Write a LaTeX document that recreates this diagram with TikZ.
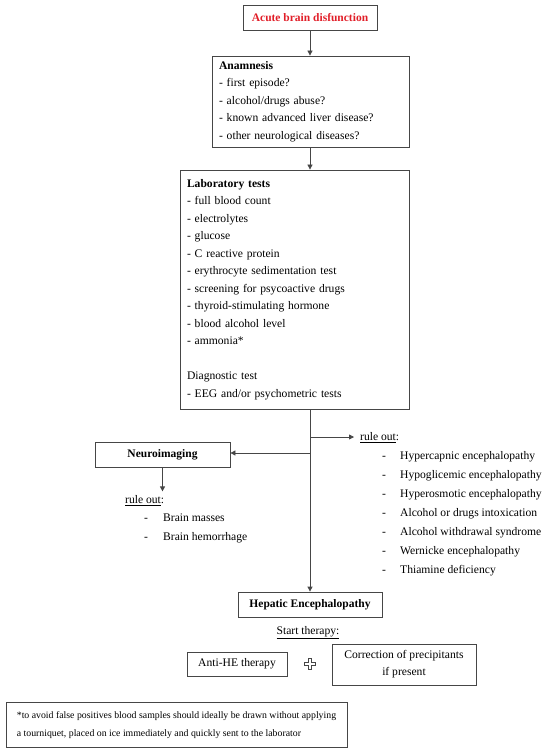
\documentclass[tikz,border=0pt]{standalone}
\usepackage{fontspec}
\setmainfont{Liberation Serif}
\usetikzlibrary{arrows.meta}
\definecolor{redtxt}{RGB}{225,30,40}
\definecolor{edge}{RGB}{70,70,70}
\begin{document}
\begin{tikzpicture}[x=1pt,y=-1pt,
  box/.style={draw=edge, line width=0.8pt, inner sep=0pt},
  txt/.style={font=\fontsize{11.6}{17.5}\selectfont},
  bold/.style={font=\fontsize{11.5}{13}\selectfont\bfseries},
  arr/.style={draw=edge, line width=0.8pt, -{Triangle[length=5pt,width=5pt]}},
  conn/.style={draw=edge, line width=0.8pt}]
\useasboundingbox (0,0) rectangle (550,754);
% top
\node[box, bold, minimum width=134pt, minimum height=25pt, text=redtxt] (acute) at (310,17.5) {Acute brain disfunction};
\node[box, txt, minimum width=197pt, minimum height=91pt, text width=183pt, align=left] (anam) at (310.5,101.5)
 {\textbf{Anamnesis}\\- first episode?\\- alcohol/drugs abuse?\\- known advanced liver disease?\\- other neurological diseases?};
\node[box, txt, minimum width=229pt, minimum height=239pt, text width=215pt, align=left] (lab) at (294.5,289.5)
 {\textbf{Laboratory tests}\\- full blood count\\- electrolytes\\- glucose\\- C reactive protein\\- erythrocyte sedimentation test\\- screening for psycoactive drugs\\- thyroid-stimulating hormone\\- blood alcohol level\\- ammonia*\\[17.5pt]Diagnostic test\\- EEG and/or psychometric tests};
\draw[arr] (acute.south) -- (anam.north -| acute.south);
\draw[arr] (anam.south -| acute.south) -- (lab.north -| acute.south);
% neuroimaging
\node[box, bold, minimum width=135pt, minimum height=25pt] (neuro) at (162.5,454.5) {Neuroimaging};
\node[txt, anchor=west, inner sep=0pt] (ro1) at (125,501) {\underline{rule out}:};
\node[txt, anchor=north west, inner sep=0pt, align=left, font=\fontsize{11.6}{19}\selectfont] (list1) at (144,514)
 {\makebox[19pt][l]{-}Brain masses\\\makebox[19pt][l]{-}Brain hemorrhage};
% right rule out
\node[txt, anchor=west, inner sep=0pt] (ro2) at (360,438) {\underline{rule out}:};
\node[txt, anchor=north west, inner sep=0pt, align=left, font=\fontsize{11.6}{19}\selectfont] (list2) at (382,451.5)
 {\makebox[18pt][l]{-}Hypercapnic encephalopathy\\\makebox[18pt][l]{-}Hypoglicemic encephalopathy\\\makebox[18pt][l]{-}Hyperosmotic encephalopathy\\\makebox[18pt][l]{-}Alcohol or drugs intoxication\\\makebox[18pt][l]{-}Alcohol withdrawal syndrome\\\makebox[18pt][l]{-}Wernicke encephalopathy\\\makebox[18pt][l]{-}Thiamine deficiency};
% HE
\node[box, bold, minimum width=144pt, minimum height=25pt] (he) at (310,604.5) {Hepatic Encephalopathy};
\coordinate (b1) at (310,437);
\coordinate (b2) at (310,453);
\draw[arr] (lab.south -| acute.south) -- (he.north);
\draw[arr] (b1) -- ([xshift=-6pt]ro2.west |- b1);
\draw[arr] (b2) -- (neuro.east |- b2);
\draw[arr] (neuro.south) -- ++(0,24);
% therapy
\node[txt, inner sep=0pt] (start) at (308,633) {\underline{Start therapy:}};
\node[box, txt, minimum width=100pt, minimum height=24pt] (anti) at (237,664) {Anti-HE therapy};
\node[box, minimum width=144pt, minimum height=41pt, align=center, font=\fontsize{11.6}{17}\selectfont] (corr) at (404,664.5) {Correction of precipitants\\if present};
\node[inner sep=0pt, minimum size=12pt] (plus) at (310,664) {};
\draw[edge, line width=1pt] (plus.center) ++(-1.8,-5.5) -- ++(3.6,0) -- ++(0,3.7) -- ++(3.7,0) -- ++(0,3.6) -- ++(-3.7,0) -- ++(0,3.7) -- ++(-3.6,0) -- ++(0,-3.7) -- ++(-3.7,0) -- ++(0,-3.6) -- ++(3.7,0) -- cycle;
% footnote
\node[box, minimum width=341pt, minimum height=45pt, align=left, font=\fontsize{9.8}{18}\selectfont] (foot) at (176.5,725)
 {*to avoid false positives blood samples should ideally be drawn without applying\\a tourniquet, placed on ice immediately and quickly sent to the laborator};
\end{tikzpicture}
\end{document}
